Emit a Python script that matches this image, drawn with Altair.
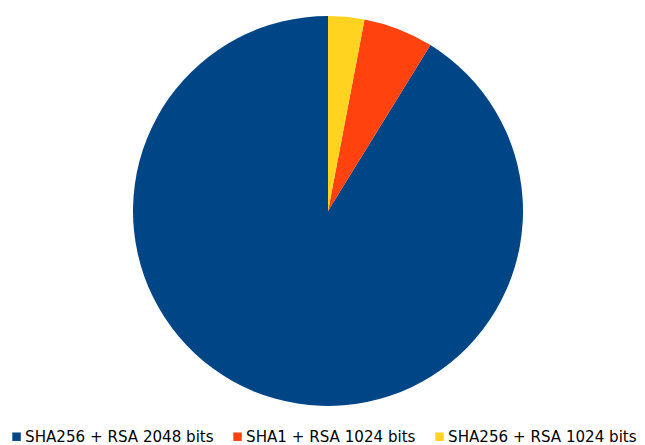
import altair as alt
import pandas as pd

categories = ["SHA256 + RSA 2048 bits", "SHA1 + RSA 1024 bits", "SHA256 + RSA 1024 bits"]
values = [91.2, 5.8, 3.0]
draw_order = [3, 2, 1]
colors = ["#004586", "#ff420e", "#ffd320"]

df = pd.DataFrame({"cat": categories, "value": values, "ord": draw_order})

chart = alt.Chart(df).mark_arc(radius=195, stroke=None).encode(
    theta=alt.Theta("value:Q", stack=True),
    order=alt.Order("ord:Q"),
    color=alt.Color(
        "cat:N",
        scale=alt.Scale(domain=categories, range=colors),
        legend=alt.Legend(
            title=None,
            orient="none",
            direction="horizontal",
            legendX=1,
            legendY=421,
            symbolType="square",
            symbolSize=72,
            symbolStrokeWidth=0,
            labelFont="DejaVu Sans",
            labelFontSize=15.1,
            labelColor="#000000",
            labelLimit=400,
            labelOffset=1,
            columnPadding=16,
            symbolOffset=0,
            padding=0,
        ),
    ),
    x=alt.value(320),
    y=alt.value(203),
).properties(
    width=629, height=437, padding=0, autosize=alt.AutoSizeParams(type="none")
).configure_view(stroke=None)

chart.save("out.html", embed_options={"renderer": "svg", "actions": False})
